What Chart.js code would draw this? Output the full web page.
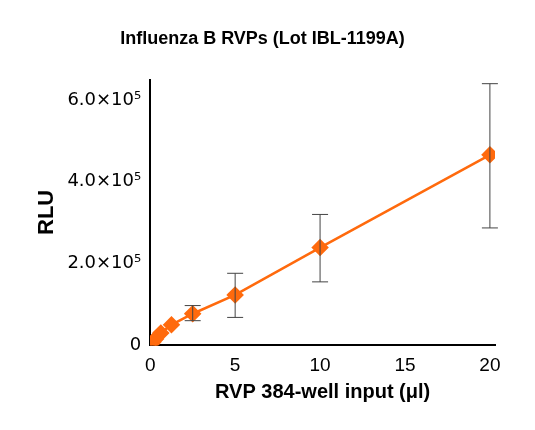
<!DOCTYPE html><html><head><script src="https://cdn.jsdelivr.net/npm/chart.js@4"></script>
<style>body{margin:0;background:#fff}#w{width:535px;height:430px}</style></head><body><div id="w"><canvas id="c"></canvas></div>
<script>
const xVals=[0,0.078,0.156,0.3125,0.625,1.25,2.5,5,10,20];
const yVals=[0,4000,8000,15000,30000,50000,77000,123000,239000,466000];
const errHi=[0,0,0,0,0,0,97000,176000,320000,640000];
const errLo=[0,0,0,0,0,0,60000,68000,155000,287000];
const xTicks=[0,5,10,15,20];
const yTicks=[0,200000,400000,600000];
const yLabels=['0','2.0×10⁵','4.0×10⁵','6.0×10⁵'];
const errPlugin={id:'err',afterDatasetsDraw(ch){const c=ch.ctx,x=ch.scales.x,y=ch.scales.y;c.save();c.strokeStyle='#444';c.lineWidth=1;
xVals.forEach((v,i)=>{if(errHi[i]===errLo[i])return;const px=x.getPixelForValue(v),a=y.getPixelForValue(errHi[i]),b=y.getPixelForValue(errLo[i]);
c.beginPath();c.moveTo(px,a);c.lineTo(px,b);c.moveTo(px-8,a);c.lineTo(px+8,a);c.moveTo(px-8,b);c.lineTo(px+8,b);c.stroke();});c.restore();}};
new Chart(document.getElementById('c'),{type:'scatter',data:{datasets:[{data:xVals.map((v,i)=>({x:v,y:yVals[i]})),showLine:true,borderColor:'#ff6a0d',backgroundColor:'#ff6a0d',borderWidth:2.5,pointStyle:'rectRot',pointRadius:7,pointHoverRadius:7}]},
options:{responsive:true,maintainAspectRatio:false,animation:false,layout:{padding:{top:14,right:40,left:30,bottom:22}},
plugins:{legend:{display:false},tooltip:{enabled:false},title:{display:true,text:'Influenza B RVPs (Lot IBL-1199A)',color:'#000',font:{family:'Liberation Sans',size:18,weight:'bold'},padding:{top:14,bottom:30}}},
scales:{x:{type:'linear',min:0,max:20.3,afterBuildTicks:s=>{s.ticks=xTicks.map(v=>({value:v}))},grid:{display:false,drawTicks:true,tickLength:6,tickColor:'#000'},border:{color:'#000',width:2},ticks:{color:'#000',font:{family:'Liberation Sans',size:19}},
title:{display:true,text:'RVP 384-well input (μl)',color:'#000',font:{family:'Liberation Sans',size:20,weight:'bold'},padding:{top:0}}},
y:{min:0,max:650000,afterBuildTicks:s=>{s.ticks=yTicks.map(v=>({value:v}))},grid:{display:false,tickLength:6,tickColor:'#000'},border:{color:'#000',width:2},ticks:{color:'#000',font:{family:'DejaVu Sans',size:18},callback:(v)=>yLabels[yTicks.indexOf(v)]},
title:{display:true,text:'RLU',color:'#000',font:{family:'Liberation Sans',size:22,weight:'bold'}}}}},plugins:[errPlugin]});
</script></body></html>
